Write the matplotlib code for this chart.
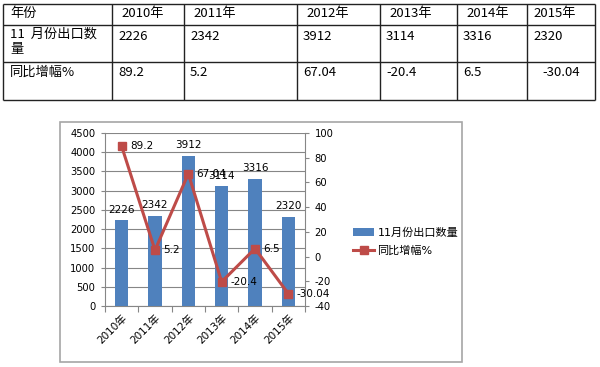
import numpy as np
import matplotlib
matplotlib.use('Agg')
import matplotlib.pyplot as plt
from matplotlib.patches import Rectangle

plt.rcParams['font.family'] = ['DejaVu Sans', 'Noto Sans CJK SC']
plt.rcParams['axes.unicode_minus'] = False

# data
years = ['2010年', '2011年', '2012年', '2013年', '2014年', '2015年']
exports = [2226, 2342, 3912, 3114, 3316, 2320]
growth = [89.2, 5.2, 67.04, -20.4, 6.5, -30.04]
growth_txt = ['89.2', '5.2', '67.04', '-20.4', '6.5', '-30.04']
row_names = ['年份', '11  月份出口数\n量', '同比增幅%']
bar_name = '11月份出口数量'
line_name = '同比增幅%'

BLUE = '#4F81BD'
RED = '#BE4B48'
GRAY = '#868686'


def main():
    fig = plt.figure(figsize=(6, 3.67), dpi=100)

    # background layer in pixel coordinates: table + chart frame
    bg = fig.add_axes([0, 0, 1, 1])
    bg.set_xlim(0, 600)
    bg.set_ylim(367, 0)
    bg.axis('off')

    cols = [3, 112, 184, 297, 380, 457, 527, 595]
    rows = [4, 25, 62, 100]
    bg.hlines(rows, cols[0], cols[-1], color='#222222', lw=1.0)
    bg.vlines(cols, rows[0], rows[-1], color='#222222', lw=1.0)

    tfont = ['Noto Sans CJK SC', 'DejaVu Sans']
    bg.text(10, 14, row_names[0], fontsize=9.5, family=tfont, va='center')
    bg.text(10, 28, row_names[1], fontsize=9.5, family=tfont, va='top',
            linespacing=1.15)
    bg.text(10, 72, row_names[2], fontsize=9.5, family=tfont, va='center')
    for i, yr in enumerate(years):
        x0 = cols[i + 1]
        pad = 9 if i < 5 else 6
        bg.text(x0 + pad, 14, yr, fontsize=9.5, family=tfont, va='center')
        bg.text(x0 + 6, 36, str(exports[i]), fontsize=9.5, family=tfont,
                va='center')
        extra = 9 if i == 5 else 0
        bg.text(x0 + 6 + extra, 72, growth_txt[i], fontsize=9.5, family=tfont,
                va='center')

    bg.add_patch(Rectangle((60, 122), 402, 240, fill=False, ec='#A6A6A6',
                           lw=1.2))

    # chart
    ax = fig.add_axes([105 / 600, (367 - 306) / 367, 200 / 600, 173 / 367])
    x = np.arange(len(years))
    bars = ax.bar(x, exports, width=0.4, color=BLUE, zorder=3,
                  label=bar_name)
    ax.set_xlim(-0.5, 5.5)
    ax.set_ylim(0, 4500)
    ax.set_yticks(np.arange(0, 4501, 500))
    ax.yaxis.grid(True, color=GRAY, lw=0.8, zorder=0)
    ax.set_axisbelow(True)
    ax.set_xticks(np.arange(-0.5, 6, 1))
    ax.set_xticklabels([])
    ax.set_xticks(x, minor=True)
    ax.set_xticklabels(years, minor=True, rotation=45, ha='right',
                       va='top', rotation_mode='anchor', fontsize=7.5,
                       family=['DejaVu Sans', 'Noto Sans CJK SC'])
    ax.tick_params(axis='x', which='major', length=4, color=GRAY)
    ax.tick_params(axis='x', which='minor', length=0, pad=5)
    ax.tick_params(axis='y', length=3, color=GRAY, labelsize=7.2, pad=4)
    for s in ['top', 'right']:
        ax.spines[s].set_visible(False)
    for s in ['left', 'bottom']:
        ax.spines[s].set_color(GRAY)
        ax.spines[s].set_linewidth(0.8)

    for i, v in enumerate(exports):
        ax.annotate(str(v), (i, v), xytext=(0, 4), textcoords='offset points',
                    ha='center', va='bottom', fontsize=7.5)

    ax2 = ax.twinx()
    line, = ax2.plot(x, growth, color=RED, lw=2.2, marker='s', ms=6,
                     zorder=4, label=line_name)
    ax2.set_ylim(-40, 100)
    ax2.set_yticks(np.arange(-40, 101, 20))
    ax2.tick_params(axis='y', length=3, color=GRAY, labelsize=7.2, pad=4)
    for s in ['top', 'left', 'bottom']:
        ax2.spines[s].set_visible(False)
    ax2.spines['right'].set_color(GRAY)
    ax2.spines['right'].set_linewidth(0.8)
    for i, v in enumerate(growth):
        ax2.annotate(growth_txt[i], (i, v), xytext=(6, 0),
                     textcoords='offset points', ha='left', va='center',
                     fontsize=7.5)

    ax2.legend([bars, line], [bar_name, line_name], loc='center left',
               bbox_to_anchor=(343 / 600, 1 - 242 / 367),
               bbox_transform=fig.transFigure, frameon=False,
               prop={'family': ['DejaVu Sans', 'Noto Sans CJK SC'],
                     'size': 8},
               handlelength=1.9, handletextpad=0.3, labelspacing=0.7)

    fig.savefig('out.png', dpi=100)


if __name__ == "__main__":
    main()
